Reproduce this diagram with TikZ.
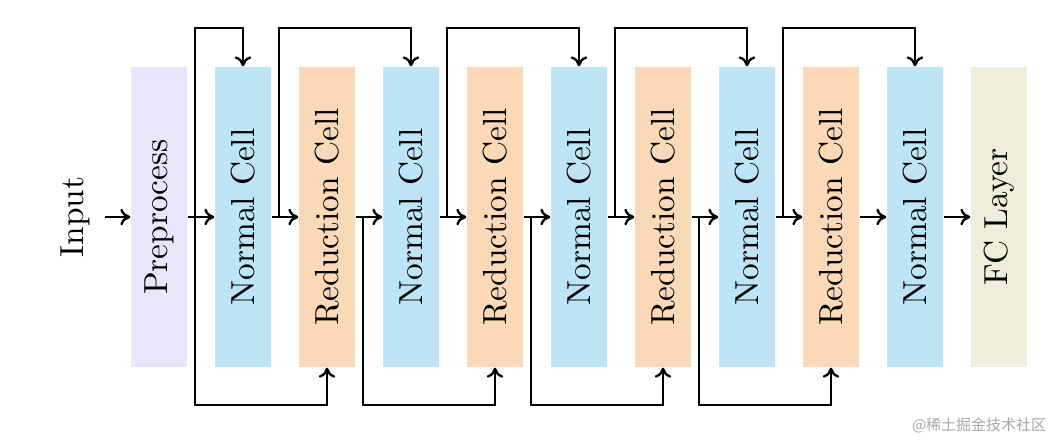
\documentclass[tikz,border=0pt]{standalone}
\usepackage{fontspec}
\newfontfamily\cjk{Noto Sans CJK SC}
\usetikzlibrary{arrows.meta}
\definecolor{cpre}{HTML}{E8E6FB}
\definecolor{cnorm}{HTML}{BEE5F6}
\definecolor{cred}{HTML}{FBD9B8}
\definecolor{cfc}{HTML}{EEEEDA}
\begin{document}
\begin{tikzpicture}[x=0.3pt,y=-0.3pt,
  cell/.style={rectangle,inner sep=0pt,minimum width=16.8pt,minimum height=90pt},
  lbl/.style={rotate=90,font=\fontsize{10}{12}\selectfont},
  conn/.style={line width=0.7pt,-{To[length=3pt,width=5pt]}}]
\useasboundingbox (0,0) rectangle (1063,441);
\node[lbl] (in) at (75,217) {Input};
\foreach \i/\c/\t in {0/cpre/Preprocess,1/cnorm/Normal Cell,2/cred/Reduction Cell,3/cnorm/Normal Cell,4/cred/Reduction Cell,5/cnorm/Normal Cell,6/cred/Reduction Cell,7/cnorm/Normal Cell,8/cred/Reduction Cell,9/cnorm/Normal Cell,10/cfc/FC Layer}{
  \node[cell,fill=\c] (b\i) at ({159+84*\i},217) {};
  \node[lbl] (t\i) at (b\i) {\t};
}
\coordinate (s) at (105,217);
\draw[conn] (s) -- (b0.west);
\foreach \i [evaluate=\i as \j using int(\i+1)] in {0,...,9}{
  \draw[conn] (b\i.east) -- (b\j.west);
}
\foreach \a/\b/\x in {0/1/195,2/3/279,4/5/447,6/7/615,8/9/783}{
  \coordinate (u\a) at (\x,217);
  \draw[conn] (u\a) -- (\x,28) -| (b\b.north);
}
\foreach \a/\b/\x in {0/2/195,2/4/363,4/6/531,6/8/699}{
  \coordinate (d\a) at (\x,217);
  \draw[conn] (d\a) -- (\x,405) -| (b\b.south);
}
\node[font=\cjk\fontsize{4.5}{5}\selectfont,text=gray!70,anchor=east] (wm) at (1058,425) {@稀土掘金技术社区};
\end{tikzpicture}
\end{document}
